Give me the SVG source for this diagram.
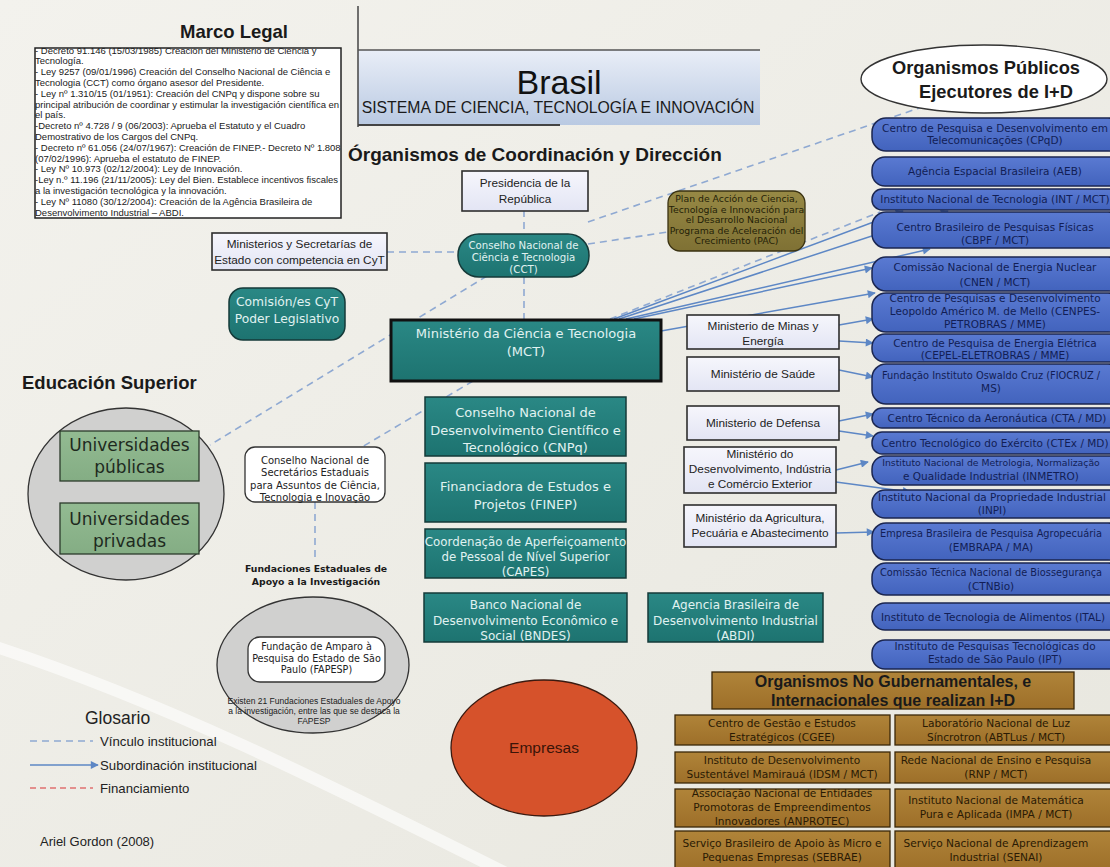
<svg xmlns="http://www.w3.org/2000/svg" width="1110" height="867" viewBox="0 0 1110 867">
<defs>
<linearGradient id="gBg" x1="0" y1="0" x2="1" y2="1"><stop offset="0" stop-color="#f3f2ed"/><stop offset="1" stop-color="#e8e7df"/></linearGradient>
<linearGradient id="gLav" x1="0" y1="0" x2="0" y2="1"><stop offset="0" stop-color="#f6f6fc"/><stop offset="1" stop-color="#e3e5f4"/></linearGradient>
<linearGradient id="gTeal" x1="0" y1="0" x2="0" y2="1"><stop offset="0" stop-color="#2a8885"/><stop offset="1" stop-color="#1d7370"/></linearGradient>
<linearGradient id="gBlue" x1="0" y1="0" x2="0" y2="1"><stop offset="0" stop-color="#5a7ad2"/><stop offset="1" stop-color="#4263bd"/></linearGradient>
<linearGradient id="gBrown" x1="0" y1="0" x2="0" y2="1"><stop offset="0" stop-color="#b08439"/><stop offset="1" stop-color="#9d6f29"/></linearGradient>
<linearGradient id="gOlive" x1="0" y1="0" x2="0" y2="1"><stop offset="0" stop-color="#978945"/><stop offset="1" stop-color="#7f7134"/></linearGradient>
<linearGradient id="gBrasil" x1="0" y1="0" x2="0" y2="1"><stop offset="0" stop-color="#e9eef7"/><stop offset="1" stop-color="#b9c9e2"/></linearGradient>
<linearGradient id="gGreen" x1="0" y1="0" x2="0" y2="1"><stop offset="0" stop-color="#93bb92"/><stop offset="1" stop-color="#84ad84"/></linearGradient>
<marker id="arr" viewBox="0 0 10 10" refX="9" refY="5" markerWidth="9" markerHeight="8" markerUnits="userSpaceOnUse" orient="auto"><path d="M0,0 L10,5 L0,10 z" fill="#5d87c5"/></marker>
<clipPath id="mlClip"><rect x="35" y="48" width="306" height="170"/></clipPath>
<clipPath id="colClip"><rect x="873" y="100" width="240" height="580"/></clipPath>
<clipPath id="planClip"><rect x="668" y="191" width="137" height="60" rx="12"/></clipPath>
<style>
.dash{stroke:#8fa9d2;stroke-width:1.6;stroke-dasharray:7 5;fill:none}
.sub{stroke:#5d87c5;stroke-width:1.5;fill:none;marker-end:url(#arr)}
.lav{fill:url(#gLav);stroke:#2e2e2e;stroke-width:1.6}
.teal{fill:url(#gTeal);stroke:#153a39;stroke-width:1.5}
.blue{fill:url(#gBlue);stroke:#1b2650;stroke-width:1.5}
.brown{fill:url(#gBrown);stroke:#3a2708;stroke-width:1.3}
.gray{fill:#d0d0cf;stroke:#333;stroke-width:1.3}
.white{fill:#ffffff;stroke:#333;stroke-width:1.3}
.sans{font-family:"Liberation Sans",Arial,sans-serif}
.dv{font-family:"DejaVu Sans",Verdana,sans-serif}
.tt{font-family:"DejaVu Sans",Verdana,sans-serif;fill:#e0f2f1;text-anchor:middle}
.bt{font-family:"DejaVu Sans",Verdana,sans-serif;fill:#121e55;text-anchor:middle;font-size:10.5px}
.bs{font-size:9.8px}
.bxs{font-size:9.3px}
.mt{font-family:"Liberation Sans",Arial,sans-serif;fill:#222;text-anchor:middle;font-size:11.8px}
.nt{font-family:"DejaVu Sans",Verdana,sans-serif;fill:#2a1a04;text-anchor:middle;font-size:10.6px}
.ml{font-family:"Liberation Sans",Arial,sans-serif;fill:#1a1a1a;font-size:9.5px}
.h{font-family:"Liberation Sans",Arial,sans-serif;font-weight:bold;fill:#1a1a1a}
</style>
</defs>
<rect x="0" y="0" width="1110" height="867" fill="url(#gBg)"/>
<path d="M -10 645 C 160 700 320 780 520 880" stroke="#ffffff" stroke-opacity="0.6" stroke-width="12" fill="none"/>

<g id="connectors">
<line class="dash" x1="524" y1="210" x2="524" y2="234"/>
<line class="dash" x1="387" y1="252" x2="458" y2="252"/>
<line class="dash" x1="524" y1="277" x2="524" y2="320"/>
<line class="dash" x1="487" y1="276" x2="210" y2="445"/>
<line class="dash" x1="588" y1="222" x2="925" y2="106"/>
<line class="dash" x1="588" y1="244" x2="668" y2="232"/>
<line class="dash" x1="473" y1="381" x2="362" y2="447"/>
<line class="dash" x1="315" y1="502" x2="315" y2="558"/>
<line class="dash" x1="610" y1="319" x2="880" y2="212"/>
<line class="sub" x1="614" y1="319" x2="903" y2="211"/>
<line class="sub" x1="619" y1="319" x2="948" y2="211"/>
<line class="sub" x1="626" y1="319" x2="930" y2="249"/>
<line class="sub" x1="634" y1="319" x2="872" y2="268"/>
<line class="sub" x1="661" y1="331" x2="875" y2="293"/>
<line class="sub" x1="839" y1="325" x2="873" y2="319"/>
<line class="sub" x1="839" y1="341" x2="873" y2="343"/>
<line class="sub" x1="839" y1="370" x2="873" y2="377"/>
<line class="sub" x1="839" y1="421" x2="873" y2="414"/>
<line class="sub" x1="839" y1="431" x2="873" y2="436"/>
<line class="sub" x1="836" y1="470" x2="868" y2="462"/>
<line class="sub" x1="836" y1="482" x2="910" y2="492"/>
<line class="sub" x1="836" y1="533" x2="874" y2="532"/>
</g>

<g id="marco-legal">
<text class="h" x="234" y="38" font-size="18.5" text-anchor="middle">Marco Legal</text>
<rect x="35" y="48" width="306" height="170" fill="#fff"/>
<g clip-path="url(#mlClip)" class="ml">
<text x="35" y="53.5">- Decreto 91.146 (15/03/1985) Creación del Ministerio de Ciencia y</text>
<text x="35" y="64.3">Tecnología.</text>
<text x="35" y="75.1">- Ley 9257 (09/01/1996) Creación del Conselho Nacional de Ciência e</text>
<text x="35" y="85.9">Tecnologia (CCT) como órgano asesor del Presidente.</text>
<text x="35" y="96.7">- Ley nº 1.310/15 (01/1951): Creación del CNPq y dispone sobre su</text>
<text x="35" y="107.5">principal atribución de coordinar y estimular la investigación científica en</text>
<text x="35" y="118.3">el país.</text>
<text x="35" y="129.1">-Decreto nº 4.728 / 9 (06/2003): Aprueba el Estatuto y el Cuadro</text>
<text x="35" y="139.9">Demostrativo de los Cargos del CNPq.</text>
<text x="35" y="150.7">- Decreto nº 61.056 (24/07/1967): Creación de FINEP.- Decreto Nº 1.808,</text>
<text x="35" y="161.5">(07/02/1996): Aprueba el estatuto de FINEP.</text>
<text x="35" y="172.3">- Ley Nº 10.973 (02/12/2004): Ley de Innovación.</text>
<text x="35" y="183.1">-Ley n.º 11.196 (21/11/2005): Ley del Bien. Establece incentivos fiscales</text>
<text x="35" y="193.9">a la investigación tecnológica y la innovación.</text>
<text x="35" y="204.7">- Ley Nº 11080 (30/12/2004): Creación de la Agência Brasileira de</text>
<text x="35" y="215.5">Desenvolvimento Industrial – ABDI.</text>
</g>
<rect x="35" y="48" width="306" height="170" fill="none" stroke="#222" stroke-width="1.5"/>
</g>

<g id="brasil">
<rect x="358" y="50" width="402" height="75" fill="url(#gBrasil)"/>
<line x1="358" y1="6" x2="358" y2="127" stroke="#444" stroke-width="1.5"/>
<line x1="358" y1="50" x2="760" y2="50" stroke="#555" stroke-width="1.3"/>
<line x1="358" y1="125" x2="560" y2="125" stroke="#444" stroke-width="2"/>
<text class="sans" x="559" y="94" font-size="34" text-anchor="middle" fill="#111">Brasil</text>
<text class="sans" x="558" y="113" font-size="15.8" text-anchor="middle" fill="#1a1a1a">SISTEMA DE CIENCIA, TECNOLOGÍA E INNOVACIÓN</text>
</g>

<text class="h" x="348" y="161" font-size="19">Órganismos de Coordinación y Dirección</text>

<g id="presidencia">
<rect class="lav" x="462" y="171" width="126" height="40"/>
<text class="mt" x="525" y="187">Presidencia de la</text>
<text class="mt" x="525" y="203">República</text>
</g>

<g id="ministerios-cyt">
<rect class="lav" x="212" y="233" width="175" height="37"/>
<text class="mt" x="299.5" y="248">Ministerios y Secretarías de</text>
<text class="mt" x="299.5" y="264">Estado con competencia en CyT</text>
</g>

<g id="cct">
<rect class="teal" x="458" y="234" width="131" height="43" rx="21"/>
<text class="tt" x="523.5" y="249" font-size="10.2">Conselho Nacional de</text>
<text class="tt" x="523.5" y="261" font-size="10.2">Ciência e Tecnologia</text>
<text class="tt" x="523.5" y="273" font-size="10.2">(CCT)</text>
</g>

<g id="plan">
<rect x="668" y="191" width="137" height="60" rx="12" fill="url(#gOlive)" stroke="#3a3212" stroke-width="1.3"/>
<g clip-path="url(#planClip)" class="dv" font-size="9.3" fill="#241f08" text-anchor="middle">
<text x="736.5" y="202">Plan de Acción de Ciencia,</text>
<text x="736.5" y="212.5">Tecnología e Innovación para</text>
<text x="736.5" y="223">el Desarrollo Nacional</text>
<text x="736.5" y="233.5">Programa de Aceleración del</text>
<text x="736.5" y="244">Crecimiento (PAC)</text>
</g>
</g>

<g id="comision">
<rect class="teal" x="229" y="288" width="116" height="52" rx="14"/>
<text class="tt" x="287" y="306" font-size="12.3">Comisión/es CyT</text>
<text class="tt" x="287" y="323" font-size="12.3">Poder Legislativo</text>
</g>

<g id="mct">
<rect x="391" y="320" width="270" height="61" fill="url(#gTeal)" stroke="#111" stroke-width="3"/>
<text class="tt" x="526" y="338" font-size="13">Ministério da Ciência e Tecnologia</text>
<text class="tt" x="526" y="356" font-size="13">(MCT)</text>
</g>

<g id="cnpq">
<rect class="teal" x="425" y="397" width="201" height="59"/>
<text class="tt" x="525.5" y="417" font-size="13">Conselho Nacional de</text>
<text class="tt" x="525.5" y="435" font-size="13">Desenvolvimento Científico e</text>
<text class="tt" x="525.5" y="452" font-size="13">Tecnológico (CNPq)</text>
</g>
<g id="finep">
<rect class="teal" x="425" y="463" width="201" height="59"/>
<text class="tt" x="525.5" y="491" font-size="13">Financiadora de Estudos e</text>
<text class="tt" x="525.5" y="509" font-size="13">Projetos (FINEP)</text>
</g>
<g id="capes">
<rect class="teal" x="425" y="529" width="201" height="49"/>
<text class="tt" x="525.5" y="546" font-size="11.8">Coordenação de Aperfeiçoamento</text>
<text class="tt" x="525.5" y="561" font-size="11.8">de Pessoal de Nível Superior</text>
<text class="tt" x="525.5" y="576" font-size="11.8">(CAPES)</text>
</g>
<g id="bndes">
<rect class="teal" x="424" y="593" width="203" height="49"/>
<text class="tt" x="525.5" y="609" font-size="12">Banco Nacional de</text>
<text class="tt" x="525.5" y="625" font-size="12">Desenvolvimento Econômico e</text>
<text class="tt" x="525.5" y="640" font-size="12">Social (BNDES)</text>
</g>
<g id="abdi">
<rect class="teal" x="648" y="593" width="175" height="49"/>
<text class="tt" x="735.5" y="609" font-size="12">Agencia Brasileira de</text>
<text class="tt" x="735.5" y="625" font-size="12">Desenvolvimento Industrial</text>
<text class="tt" x="735.5" y="640" font-size="12">(ABDI)</text>
</g>

<g id="min-minas">
<rect class="lav" x="687" y="315" width="152" height="34"/>
<text class="mt" x="763" y="330">Ministerio de Minas y</text>
<text class="mt" x="763" y="345">Energía</text>
</g>
<g id="min-saude">
<rect class="lav" x="687" y="357" width="152" height="34"/>
<text class="mt" x="763" y="378">Ministério de Saúde</text>
</g>
<g id="min-defensa">
<rect class="lav" x="687" y="406" width="152" height="34"/>
<text class="mt" x="763" y="427">Ministerio de Defensa</text>
</g>
<g id="min-mdic">
<rect class="lav" x="684" y="447" width="152" height="46"/>
<text class="mt" x="760" y="458">Ministério do</text>
<text class="mt" x="760" y="473">Desenvolvimento, Indústria</text>
<text class="mt" x="760" y="488">e Comércio Exterior</text>
</g>
<g id="min-agricultura">
<rect class="lav" x="684" y="505" width="152" height="42"/>
<text class="mt" x="760" y="522">Ministério da Agricultura,</text>
<text class="mt" x="760" y="537">Pecuária e Abastecimento</text>
</g>

<g id="organismos-publicos">
<ellipse cx="984" cy="79" rx="123" ry="34" fill="#fff" stroke="#333" stroke-width="1.4"/>
<text class="h" x="986" y="74" font-size="18.3" text-anchor="middle">Organismos Públicos</text>
<text class="h" x="996" y="98" font-size="18.3" text-anchor="middle">Ejecutores de I+D</text>
</g>

<g id="publicos-ejecutores">
<rect id="cpqd" class="blue" x="872" y="118" width="250" height="33" rx="14"/>
<rect id="aeb" class="blue" x="872" y="157" width="250" height="29" rx="13"/>
<rect id="int" class="blue" x="872" y="189" width="250" height="21" rx="10"/>
<rect id="cbpf" class="blue" x="872" y="212" width="250" height="36" rx="14"/>
<rect id="cnen" class="blue" x="872" y="257" width="250" height="34" rx="14"/>
<rect id="cenpes" class="blue" x="872" y="293" width="250" height="39" rx="14"/>
<rect id="cepel" class="blue" x="872" y="334" width="250" height="28" rx="13"/>
<rect id="fiocruz" class="blue" x="872" y="364" width="250" height="40" rx="14"/>
<rect id="cta" class="blue" x="872" y="408" width="250" height="20" rx="10"/>
<rect id="ctex" class="blue" x="872" y="432" width="250" height="22" rx="10"/>
<rect id="inmetro" class="blue" x="872" y="456" width="250" height="29" rx="13"/>
<rect id="inpi" class="blue" x="872" y="490" width="250" height="28" rx="13"/>
<rect id="embrapa" class="blue" x="872" y="523" width="250" height="37" rx="14"/>
<rect id="ctnbio" class="blue" x="872" y="563" width="250" height="32" rx="14"/>
<rect id="ital" class="blue" x="872" y="603" width="250" height="27" rx="13"/>
<rect id="ipt" class="blue" x="872" y="640" width="250" height="29" rx="13"/>
<g clip-path="url(#colClip)">
<text class="bt" x="995" y="132">Centro de Pesquisa e Desenvolvimento em</text>
<text class="bt" x="995" y="144">Telecomunicações (CPqD)</text>
<text class="bt" x="995" y="174.5">Agência Espacial Brasileira (AEB)</text>
<text class="bt" x="995" y="203">Instituto Nacional de Tecnologia (INT / MCT)</text>
<text class="bt" x="995" y="231">Centro Brasileiro de Pesquisas Físicas</text>
<text class="bt" x="995" y="244">(CBPF / MCT)</text>
<text class="bt" x="995" y="271">Comissão Nacional de Energia Nuclear</text>
<text class="bt" x="995" y="286">(CNEN / MCT)</text>
<text class="bt" x="995" y="302">Centro de Pesquisas e Desenvolvimento</text>
<text class="bt" x="995" y="315">Leopoldo Américo M. de Mello (CENPES-</text>
<text class="bt" x="995" y="328">PETROBRAS / MME)</text>
<text class="bt" x="995" y="347">Centro de Pesquisa de Energia Elétrica</text>
<text class="bt" x="995" y="359">(CEPEL-ELETROBRAS / MME)</text>
<text class="bt bs" x="991" y="379">Fundação Instituto Oswaldo Cruz (FIOCRUZ /</text>
<text class="bt" x="991" y="392">MS)</text>
<text class="bt" x="997" y="421.5">Centro Técnico da Aeronáutica (CTA / MD)</text>
<text class="bt" x="995" y="446.5">Centro Tecnológico do Exército (CTEx / MD)</text>
<text class="bt bxs" x="991" y="466">Instituto Nacional de Metrologia, Normalização</text>
<text class="bt" x="991" y="480">e Qualidade Industrial (INMETRO)</text>
<text class="bt" x="992" y="501">Instituto Nacional da Propriedade Industrial</text>
<text class="bt" x="992" y="514">(INPI)</text>
<text class="bt bs" x="991" y="537">Empresa Brasileira de Pesquisa Agropecuária</text>
<text class="bt" x="991" y="551">(EMBRAPA / MA)</text>
<text class="bt bs" x="991" y="576">Comissão Técnica Nacional de Biossegurança</text>
<text class="bt" x="991" y="590">(CTNBio)</text>
<text class="bt" x="993" y="621">Instituto de Tecnologia de Alimentos (ITAL)</text>
<text class="bt" x="995" y="650">Instituto de Pesquisas Tecnológicas do</text>
<text class="bt" x="995" y="663">Estado de São Paulo (IPT)</text>
</g>
</g>

<text class="h" x="22" y="389" font-size="18.5">Educación Superior</text>
<g id="educacion-superior">
<ellipse class="gray" cx="126" cy="494" rx="98" ry="86"/>
</g>
<g id="univ-publicas">
<rect x="60" y="431" width="139" height="50" fill="url(#gGreen)" stroke="#2b3b2b" stroke-width="1.3"/>
<text class="dv" x="129.5" y="451" font-size="17" fill="#1e2a1e" text-anchor="middle">Universidades</text>
<text class="dv" x="129.5" y="473" font-size="17" fill="#1e2a1e" text-anchor="middle">públicas</text>
</g>
<g id="univ-privadas">
<rect x="60" y="503" width="139" height="51" fill="url(#gGreen)" stroke="#2b3b2b" stroke-width="1.3"/>
<text class="dv" x="129.5" y="525" font-size="17" fill="#1e2a1e" text-anchor="middle">Universidades</text>
<text class="dv" x="129.5" y="547" font-size="17" fill="#1e2a1e" text-anchor="middle">privadas</text>
</g>

<g id="consecti">
<rect class="white" x="245" y="447" width="140" height="55" rx="10"/>
<text class="dv" x="315" y="463.5" font-size="10" fill="#222" text-anchor="middle">Conselho Nacional de</text>
<text class="dv" x="315" y="476" font-size="10" fill="#222" text-anchor="middle">Secretários Estaduais</text>
<text class="dv" x="315" y="488.5" font-size="10" fill="#222" text-anchor="middle">para Assuntos de Ciência,</text>
<text class="dv" x="315" y="500.5" font-size="10" fill="#222" text-anchor="middle">Tecnologia e Inovação</text>
</g>

<g id="fundaciones">
<text class="dv" x="316" y="572" font-size="9.3" font-weight="bold" fill="#1a1a1a" text-anchor="middle">Fundaciones Estaduales de</text>
<text class="dv" x="316" y="585" font-size="9.3" font-weight="bold" fill="#1a1a1a" text-anchor="middle">Apoyo a la Investigación</text>
<ellipse class="gray" cx="313" cy="665" rx="96" ry="68"/>
</g>
<g id="fapesp">
<rect class="white" x="248" y="637" width="137" height="45" rx="12"/>
<text class="dv" x="316.5" y="650" font-size="9.6" fill="#222" text-anchor="middle">Fundação de Amparo à</text>
<text class="dv" x="316.5" y="661.5" font-size="9.6" fill="#222" text-anchor="middle">Pesquisa do Estado de São</text>
<text class="dv" x="316.5" y="673" font-size="9.6" fill="#222" text-anchor="middle">Paulo (FAPESP)</text>
</g>
<g id="fapesp-note" class="sans" font-size="8.5" fill="#222" text-anchor="middle">
<text x="314" y="704">Existen 21 Fundaciones Estaduales de Apoyo</text>
<text x="314" y="714">a la investigación, entre las que se destaca la</text>
<text x="314" y="724">FAPESP</text>
</g>

<g id="empresas">
<ellipse cx="544" cy="748" rx="93" ry="68" fill="#d6522b" stroke="#3a1a10" stroke-width="1.3"/>
<text class="sans" x="544" y="753" font-size="15.5" fill="#3b1408" text-anchor="middle">Empresas</text>
</g>

<g id="ong-title">
<rect class="brown" x="712" y="672" width="362" height="37"/>
<text class="h" x="893" y="687" font-size="16" text-anchor="middle" fill="#1a1206">Organismos No Gubernamentales, e</text>
<text class="h" x="893" y="706" font-size="16" text-anchor="middle" fill="#1a1206">Internacionales que realizan I+D</text>
</g>
<g id="cgee"><rect class="brown" x="675" y="715" width="215" height="30"/>
<text class="nt" x="782" y="727">Centro de Gestão e Estudos</text><text class="nt" x="782" y="741">Estratégicos (CGEE)</text></g>
<g id="abtlus"><rect class="brown" x="895" y="715" width="220" height="30"/>
<text class="nt" x="996" y="727">Laboratório Nacional de Luz</text><text class="nt" x="996" y="741">Síncrotron (ABTLus / MCT)</text></g>
<g id="idsm"><rect class="brown" x="675" y="752" width="215" height="31"/>
<text class="nt" x="782" y="764">Instituto de Desenvolvimento</text><text class="nt" x="782" y="778">Sustentável Mamirauá (IDSM / MCT)</text></g>
<g id="rnp"><rect class="brown" x="895" y="752" width="220" height="31"/>
<text class="nt" x="996" y="764">Rede Nacional de Ensino e Pesquisa</text><text class="nt" x="996" y="778">(RNP / MCT)</text></g>
<g id="anprotec"><rect class="brown" x="675" y="789" width="215" height="38"/>
<text class="nt" x="782" y="797">Associação Nacional de Entidades</text><text class="nt" x="782" y="811">Promotoras de Empreendimentos</text><text class="nt" x="782" y="825">Innovadores (ANPROTEC)</text></g>
<g id="impa"><rect class="brown" x="895" y="789" width="220" height="38"/>
<text class="nt" x="996" y="804">Instituto Nacional de Matemática</text><text class="nt" x="996" y="818">Pura e Aplicada (IMPA / MCT)</text></g>
<g id="sebrae"><rect class="brown" x="675" y="831" width="215" height="40"/>
<text class="nt" x="782" y="847">Serviço Brasileiro de Apoio às Micro e</text><text class="nt" x="782" y="861">Pequenas Empresas (SEBRAE)</text></g>
<g id="senai"><rect class="brown" x="895" y="831" width="220" height="40"/>
<text class="nt" x="996" y="847">Serviço Nacional de Aprendizagem</text><text class="nt" x="996" y="861">Industrial (SENAI)</text></g>

<g id="glosario">
<text class="sans" x="85" y="724" font-size="17.5" fill="#222">Glosario</text>
<line class="dash" x1="30" y1="741" x2="93" y2="741" stroke-dasharray="6 4"/>
<text class="sans" x="100" y="746" font-size="13.2" fill="#222">Vínculo institucional</text>
<line class="sub" x1="30" y1="765" x2="98" y2="765"/>
<text class="sans" x="100" y="770" font-size="13.2" fill="#222">Subordinación institucional</text>
<line x1="30" y1="788" x2="93" y2="788" stroke="#e07070" stroke-width="1.6" stroke-dasharray="6 4"/>
<text class="sans" x="100" y="793" font-size="13.2" fill="#222">Financiamiento</text>
<text class="sans" x="40" y="846" font-size="13" fill="#222">Ariel Gordon (2008)</text>
</g>
</svg>
